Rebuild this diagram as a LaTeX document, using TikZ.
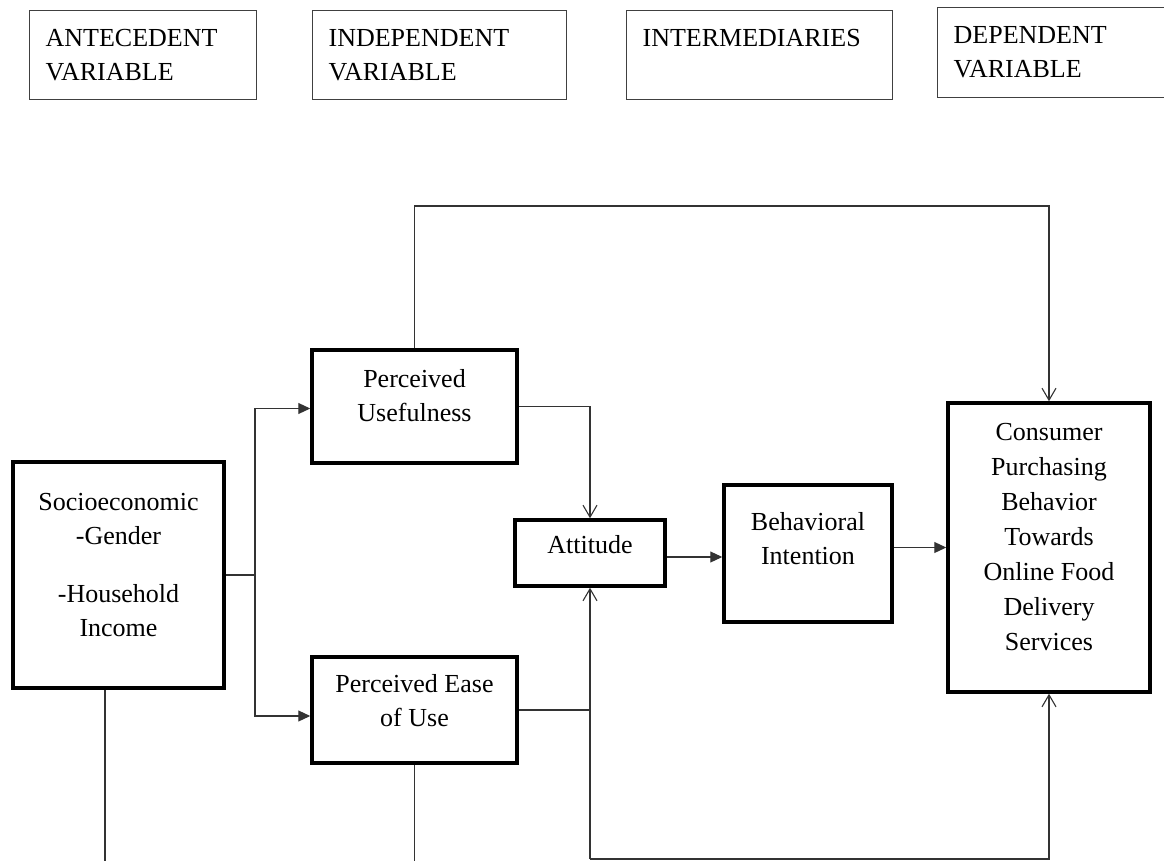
\documentclass[tikz,border=0pt]{standalone}
\usepackage{fontspec}
\setmainfont{Liberation Serif}
\usetikzlibrary{arrows.meta,positioning}

\tikzset{
  head/.style={draw=black!75, line width=1.3pt, anchor=north west, align=left,
    inner xsep=16pt, minimum height=89pt},
  box/.style={draw, line width=3.5pt},
  lbl/.style={inner sep=0pt, align=center},
  link/.style={draw=black!80, line width=1.1pt},
  solidarrow/.style={-{Triangle[length=12pt,width=11pt]}},
  openarrow/.style={-{Straight Barb[length=12pt,width=14pt]}},
}

\begin{document}
\begin{tikzpicture}[x=1pt,y=-1pt,font=\fontsize{26}{34}\selectfont]
			%%%%% START %%%%%
			\clip (0,0) rectangle (1164,861);
			\fill[white] (0,0) rectangle (1164,861);

			% column headings
			\node[head, text width=195pt] (ante) at (29,10) {ANTECEDENT\\VARIABLE};
			\node[head, text width=222pt] (indep) at (312,10) {INDEPENDENT\\VARIABLE};
			\node[head, text width=234pt] (inter) at (626,10) {INTERMEDIARIES\\\mbox{}};
			\node[head, text width=210pt, minimum height=90pt] (dep) at (937,7) {DEPENDENT\\VARIABLE};

			% boxes
			\node[box, minimum width=211pt, minimum height=226pt] (socio) at (118.5,575) {};
			\node[box, minimum width=205pt, minimum height=113pt] (pu) at (414.5,406.5) {};
			\node[box, minimum width=205pt, minimum height=106pt] (peu) at (414.5,710) {};
			\node[box, minimum width=150pt, minimum height=66pt] (att) at (590,553) {};
			\node[box, minimum width=168pt, minimum height=137pt] (bi) at (808,553.5) {};
			\node[box, minimum width=202pt, minimum height=289pt] (cons) at (1049,547.5) {};

			\node[lbl, below=33pt of socio.north] (socio-t) {Socioeconomic\\-Gender\\[24pt]-Household\\Income};
			\node[lbl, below=21pt of pu.north] (pu-t) {Perceived\\Usefulness};
			\node[lbl, below=19pt of peu.north] (peu-t) {Perceived Ease\\of Use};
			\node[lbl, below=17pt of att.north] (att-t) {Attitude};
			\node[lbl, below=29pt of bi.north] (bi-t) {Behavioral\\Intention};
			\node[lbl, below=22pt of cons.north, font=\fontsize{26}{35}\selectfont] (cons-t)
				{Consumer\\Purchasing\\Behavior\\Towards\\Online Food\\Delivery\\Services};

			% connectors
			\coordinate (split) at (255,575);
			\coordinate (base) at (590,859);
			\coordinate (roof) at (0,206);
			\coordinate (floor) at (0,861);

			\draw[link] (socio.east) -- (split);
			\draw[link, solidarrow] (split) |- ([yshift=-2pt]pu.west);
			\draw[link, solidarrow] (split) |- ([yshift=-6pt]peu.west);

			\draw[link, openarrow] (pu.east) -| (att.north);
			\draw[link] (peu.east) -- (peu.east -| base);
			\draw[link, openarrow] (base) -- (att.south);

			\draw[link, solidarrow] ([yshift=-4pt]att.east) -- ([yshift=-4pt]att.east -| bi.west);
			\draw[link, solidarrow] (bi.east |- cons.west) -- (cons.west);

			\draw[link, openarrow] (pu.north) |- (roof -| cons.north) -- (cons.north);
			\draw[link, openarrow] (base) -| (cons.south);

			\draw[link] ([xshift=-13.5pt]socio.south) -- ([xshift=-13.5pt]socio.south |- floor);
			\draw[link] (peu.south) -- (peu.south |- floor);
			%%%%% END %%%%%
\end{tikzpicture}
\end{document}
